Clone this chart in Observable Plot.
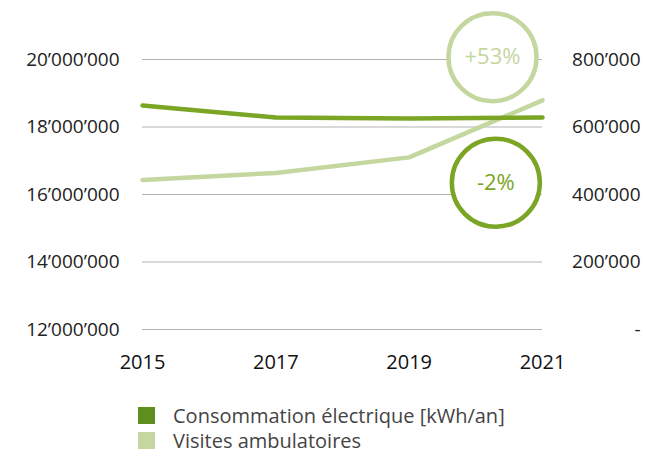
<!DOCTYPE html>
<html><head><meta charset="utf-8">
<script src="https://cdn.jsdelivr.net/npm/d3@7"></script>
<script src="https://cdn.jsdelivr.net/npm/@observablehq/plot@0.6"></script>
<style>
body{margin:0;background:#fff;font-family:"Open Sans",sans-serif;}
#legend{padding:23px 0 0 138px;color:#444;font-size:20px;line-height:25px;}
.item{display:flex;align-items:center;}
.sw{width:17px;height:17px;margin-right:18px;}
</style></head>
<body>
<div id="chart"></div>
<div id="legend"></div>
<script>
const years = [2015, 2017, 2019, 2021];
const consommation = [18640000, 18280000, 18250000, 18280000];
const visites = [443000, 464000, 510000, 679000];
const leftTicks = [12000000, 14000000, 16000000, 18000000, 20000000];
const rightTicks = [0, 200000, 400000, 600000, 800000];
const annLabels = ["+53%", "-2%"];
const annYears = [2020.25, 2020.3];
const annValues = [20070000, 16350000];
const seriesNames = ["Consommation électrique [kWh/an]", "Visites ambulatoires"];
const darkLine = "#7ba524", lightLine = "#c4d79e", darkSwatch = "#5e8e1e";

const toLeft = v => 12000000 + v * 10;
const fmt = n => d3.format(",")(n).replace(/,/g, "’");

const consData = years.map((y, i) => ({year: y, value: consommation[i]}));
const visData = years.map((y, i) => ({year: y, value: toLeft(visites[i])}));
const annData = annLabels.map((l, i) => ({label: l, year: annYears[i], value: annValues[i], color: i === 0 ? lightLine : darkLine}));

const plot = Plot.plot({
  width: 646, height: 380,
  marginLeft: 142, marginRight: 104, marginTop: 59, marginBottom: 51,
  style: {fontFamily: "Open Sans, sans-serif", color: "#222"},
  x: {domain: [2015, 2021], ticks: years, tickFormat: d => String(d), label: null},
  y: {domain: [12000000, 20000000], label: null},
  marks: [
    Plot.ruleY(leftTicks, {stroke: "#b3b3b3", strokeWidth: 1}),
    Plot.axisY({ticks: leftTicks, tickSize: 0, tickPadding: 23, tickFormat: fmt, fontSize: 19, label: null}),
    Plot.axisY({anchor: "right", ticks: rightTicks.map(toLeft), tickSize: 0, tickPadding: 98, textAnchor: "end",
      tickFormat: d => (d === 12000000 ? "-" : fmt((d - 12000000) / 10)), fontSize: 19, label: null}),
    Plot.axisX({ticks: years, tickSize: 0, tickPadding: 25, tickFormat: d => String(d), fill: "#111", fontSize: 20, label: null}),
    Plot.dot(annData, {x: "year", y: "value", r: 44, fill: "white", stroke: "color", strokeWidth: 4.5}),
    Plot.text(annData, {x: "year", y: "value", text: "label", fill: "color", fontSize: 22}),
    Plot.line(visData, {x: "year", y: "value", stroke: lightLine, strokeWidth: 4.5}),
    Plot.line(consData, {x: "year", y: "value", stroke: darkLine, strokeWidth: 4.5})
  ]
});
document.getElementById("chart").append(plot);

const legend = document.getElementById("legend");
[darkSwatch, lightLine].forEach((c, i) => {
  const d = document.createElement("div"); d.className = "item";
  const s = document.createElement("span"); s.className = "sw"; s.style.background = c;
  d.append(s, document.createTextNode(seriesNames[i]));
  legend.append(d);
});
</script>
</body></html>
